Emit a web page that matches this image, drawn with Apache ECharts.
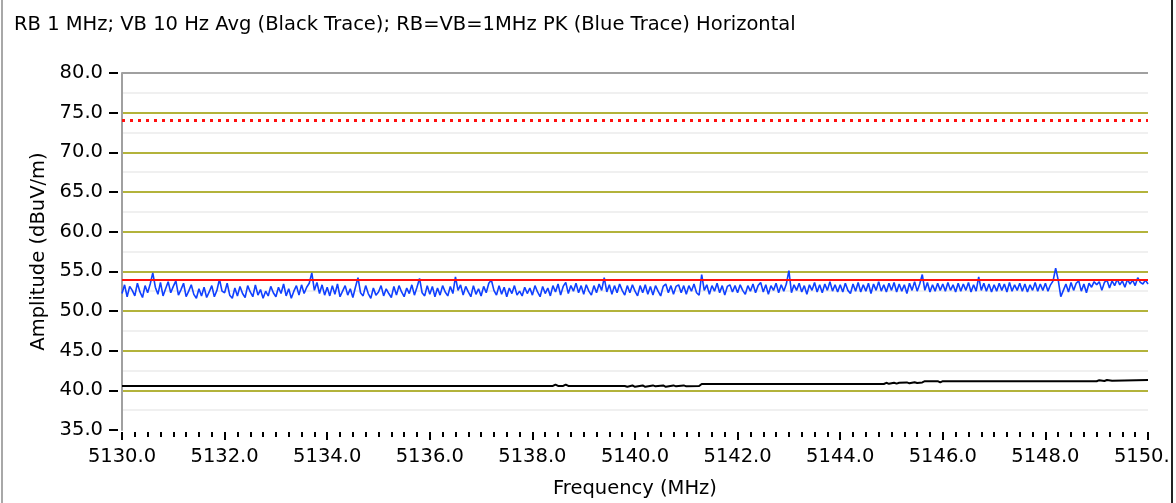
<!DOCTYPE html>
<html>
<head>
<meta charset="utf-8">
<script src="https://cdn.jsdelivr.net/npm/echarts@6/dist/echarts.min.js"></script>
<style>html,body{margin:0;padding:0;background:#fff;}#c{width:1176px;height:503px;}</style>
</head>
<body>
<div id="c"></div>
<script>
const titleText = 'RB 1 MHz; VB 10 Hz Avg (Black Trace); RB=VB=1MHz PK (Blue Trace) Horizontal';
const freqStart = 5130.0;
const freqStep = 0.05;
const bluePeak = [
52.2,53.3,51.8,53.1,52.6,51.9,53.5,52.4,51.7,53.2,52.3,53.4,54.8,53.0,52.1,53.6,51.9,52.8,53.7,52.3,
53.1,53.8,52.0,52.7,53.5,51.8,52.5,53.3,52.1,51.6,52.8,51.9,53.0,51.7,52.4,53.2,51.8,52.6,54.0,52.5,
52.3,53.5,52.0,51.6,52.9,51.9,53.1,52.2,51.7,53.2,52.4,51.8,53.3,52.0,52.7,51.6,52.5,51.9,53.1,52.3,
51.8,53.0,52.2,53.4,51.9,52.8,51.6,52.5,53.2,52.0,53.3,52.2,53.0,53.5,54.8,52.6,53.6,52.2,53.3,52.0,
53.0,51.9,53.2,52.1,53.4,51.8,52.5,53.2,52.0,52.8,51.7,53.0,54.2,52.3,51.9,53.2,52.2,51.6,52.9,52.0,
52.4,53.2,51.9,52.8,52.2,51.7,53.1,52.0,53.2,52.4,51.8,52.9,52.2,53.3,52.0,53.0,54.1,52.3,51.9,53.2,
52.1,53.1,51.8,52.9,52.0,53.2,52.4,51.9,53.1,52.2,54.3,52.6,53.3,52.0,53.1,52.4,51.8,53.2,52.1,52.8,
51.9,53.1,52.3,53.5,53.9,52.6,52.0,53.2,52.1,53.0,51.8,52.9,52.2,53.2,52.0,52.5,51.9,53.0,52.2,52.9,
52.0,53.2,52.4,51.8,53.1,52.2,52.9,51.9,53.2,52.4,53.4,52.0,53.1,53.6,52.2,53.2,52.5,53.5,52.3,53.2,
52.1,53.3,52.5,52.0,53.2,52.3,53.4,52.6,54.2,52.4,53.3,52.1,53.2,52.3,53.4,52.6,52.0,53.2,52.3,53.3,
52.5,51.9,53.2,52.3,53.3,52.1,53.1,52.0,53.2,52.5,51.9,53.1,53.4,52.3,53.2,52.1,53.1,53.3,52.3,53.2,
52.1,53.2,52.5,53.4,52.3,52.0,54.6,52.6,53.3,52.1,53.2,52.5,53.5,52.3,53.2,52.0,53.1,53.3,52.4,53.2,
52.3,53.3,52.6,52.1,53.2,52.5,53.4,52.3,53.2,53.6,52.4,53.3,52.1,53.2,52.6,53.5,52.3,53.3,52.5,53.4,
55.1,52.3,53.3,52.6,53.5,52.4,53.2,52.1,53.3,52.6,53.6,52.4,53.3,52.3,53.4,52.6,53.7,52.5,53.3,52.4,
53.3,52.4,53.5,52.6,52.2,53.4,52.5,53.6,52.4,53.3,52.5,53.5,52.2,53.4,52.6,53.7,52.5,53.3,52.4,53.5,
52.6,53.6,52.4,53.4,52.5,53.3,52.2,53.5,52.6,53.7,52.5,53.4,54.6,52.6,53.6,52.4,53.3,52.5,53.5,52.6,
53.4,52.5,53.6,52.6,53.3,52.4,53.5,52.5,53.4,52.6,53.6,52.4,53.3,52.5,54.3,52.6,53.5,52.5,53.4,52.4,
53.3,52.5,53.5,52.6,53.4,52.4,53.6,52.5,53.3,52.6,53.5,52.5,53.4,52.4,53.3,52.6,53.6,52.5,53.4,52.6,
53.5,52.5,53.3,53.8,55.4,53.9,51.8,52.6,53.4,52.4,53.6,52.6,53.5,53.8,52.5,53.4,52.3,53.5,53.0,53.7,
53.3,53.7,52.6,53.6,53.9,52.9,53.8,53.2,54.0,53.3,53.8,53.0,54.0,53.4,53.9,53.2,54.2,53.6,53.4,53.9,
53.4
];
const blackFreq = [5130.0,5138.40,5138.45,5138.50,5138.60,5138.65,5138.70,5139.80,5139.85,5139.95,5140.00,5140.15,5140.20,5140.35,5140.40,5140.55,5140.60,5140.75,5140.80,5140.95,5141.00,5141.25,5141.30,5144.85,5144.90,5144.95,5145.05,5145.10,5145.15,5145.30,5145.35,5145.45,5145.50,5145.60,5145.65,5145.90,5145.95,5146.00,5149.00,5149.05,5149.15,5149.20,5149.30,5150.0];
const blackAvg = [40.55,40.55,40.72,40.55,40.55,40.72,40.55,40.55,40.45,40.62,40.45,40.62,40.45,40.62,40.5,40.62,40.45,40.62,40.5,40.62,40.5,40.55,40.8,40.8,40.95,40.82,40.95,40.85,40.95,41.0,40.88,41.02,40.92,41.0,41.15,41.15,41.0,41.15,41.15,41.28,41.18,41.3,41.22,41.3];
const avgLimit = 54;
const peakLimit = 74;
const yMin = 35, yMax = 80, yStep = 5;
const xMin = 5130, xMax = 5150, xStep = 2;

const FONT = 'DejaVu Sans';
const FS = 19.5;
const blueData = bluePeak.map((v, i) => [freqStart + i * freqStep, v]);
const blackData = blackFreq.map((f, i) => [f, blackAvg[i]]);
const olive = '#b3b33b';

const chart = echarts.init(document.getElementById('c'), null, {renderer: 'canvas'});
chart.setOption({
  animation: false,
  backgroundColor: '#fff',
  title: {text: titleText, left: 9, top: 10, textStyle: {fontFamily: FONT, fontSize: FS, fontWeight: 'normal', color: '#000'}},
  grid: {left: 122, right: 28, top: 73, bottom: 73, outerBoundsMode: 'none', containLabel: false},
  xAxis: {
    type: 'value', min: xMin, max: xMax, interval: xStep, offset: 2,
    name: 'Frequency (MHz)', nameLocation: 'middle', nameGap: 47,
    nameTextStyle: {fontFamily: FONT, fontSize: FS, color: '#000'},
    axisLine: {show: false},
    axisTick: {show: true, length: 8, lineStyle: {color: '#000', width: 2}},
    minorTick: {show: true, splitNumber: 8, length: 5, lineStyle: {color: '#000', width: 2}},
    axisLabel: {margin: 15, fontFamily: FONT, fontSize: FS, color: '#000', formatter: v => v.toFixed(1)},
    splitLine: {show: false}
  },
  yAxis: [{
    type: 'value', min: yMin, max: yMax, interval: yStep, offset: 4,
    name: 'Amplitude (dBuV/m)', nameLocation: 'middle', nameGap: 68,
    nameTextStyle: {fontFamily: FONT, fontSize: FS, color: '#000'},
    axisLine: {show: false},
    axisTick: {show: true, length: 9, lineStyle: {color: '#000', width: 2}},
    axisLabel: {margin: 15, fontFamily: FONT, fontSize: FS, color: '#000', formatter: v => v.toFixed(1)},
    splitLine: {show: true, lineStyle: {width: 2, color: ['rgba(0,0,0,0)', olive, olive, olive, olive, olive, olive, olive, olive, '#a0a0a0']}},
    minorSplitLine: {show: true, lineStyle: {color: '#f0f0f0', width: 2}},
    minorTick: {show: false, splitNumber: 2}
  }, {
    type: 'value', min: yMin, max: yMax, position: 'left', offset: 0,
    axisLine: {show: true, onZero: false, lineStyle: {color: '#a0a0a0', width: 2}},
    axisTick: {show: false}, axisLabel: {show: false}, splitLine: {show: false}
  }],
  series: [{
    name: 'Peak', type: 'line', data: blueData, showSymbol: false, symbol: 'none',
    lineStyle: {color: '#1040ff', width: 1.6}, z: 3,
    markLine: {
      silent: true, symbol: 'none', label: {show: false},
      data: [
        {yAxis: avgLimit, lineStyle: {color: '#ff1010', width: 2, type: 'solid'}},
        {yAxis: peakLimit, lineStyle: {color: '#ff1010', width: 3, type: [3, 5]}}
      ]
    }
  }, {
    name: 'Average', type: 'line', data: blackData, showSymbol: false, symbol: 'none',
    lineStyle: {color: '#000', width: 2}, z: 4
  }],
  graphic: [
    {type: 'rect', z: 100, shape: {x: 1172, y: 0, width: 4, height: 503}, style: {fill: '#fff'}},
    {type: 'line', z: 101, shape: {x1: 1172, y1: 0, x2: 1172, y2: 503}, style: {stroke: '#222', lineWidth: 2}},
    {type: 'line', z: 101, shape: {x1: 2, y1: 0, x2: 2, y2: 503}, style: {stroke: '#a8a8a8', lineWidth: 2}}
  ]
});
</script>
</body>
</html>
